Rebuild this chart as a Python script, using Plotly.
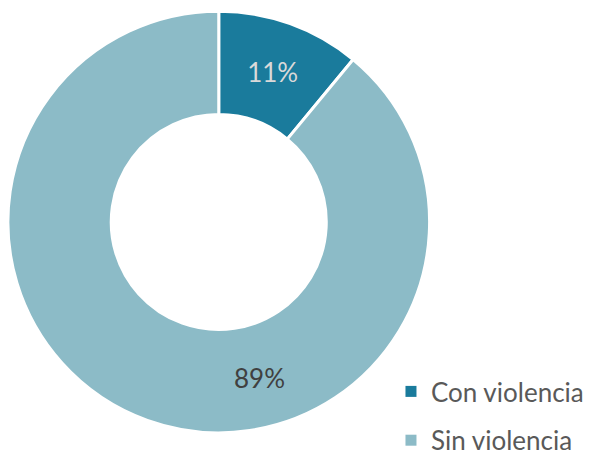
import plotly.graph_objects as go

labels = ["Con violencia", "Sin violencia"]
values = [11, 89]
colors = ["#1A7B9C", "#8CBBC7"]
text_labels = ["11%", ""]

FW, FH = 589, 464

fig = go.Figure()
fig.add_trace(go.Pie(
    labels=labels, values=values, hole=0.51, sort=False, direction="clockwise",
    rotation=0,
    marker=dict(colors=colors, line=dict(color="white", width=3)),
    text=text_labels, textinfo="text", textposition="inside",
    insidetextfont=dict(color=["#D9D9D9", "#404040"], size=26, family="Lato"),
    insidetextorientation="horizontal",
    domain=dict(x=[8/FW, 434/FW], y=[1-435/FH, 1-9/FH]),
    showlegend=False,
))
for lab, col in zip(labels, colors):
    fig.add_trace(go.Scatter(
        x=[None], y=[None], mode="markers", name=lab, legendgroup=lab,
        marker=dict(symbol="square", size=11, color=col),
        showlegend=True,
    ))
fig.add_annotation(text="89%", x=262/FW, y=1-378/FH, xref="paper", yref="paper",
                   xanchor="center", yanchor="middle",
                   showarrow=False, font=dict(size=26, color="#404040", family="Lato"))
fig.update_layout(
    width=FW, height=FH, margin=dict(l=0, r=0, t=0, b=0),
    paper_bgcolor="white", plot_bgcolor="white",
    xaxis=dict(visible=False), yaxis=dict(visible=False),
    legend=dict(x=395/FW, y=0, xanchor="left", yanchor="bottom",
                font=dict(size=26, color="#595959", family="Lato"),
                tracegroupgap=12, bgcolor="rgba(0,0,0,0)"),
)
fig.write_html("out.html", config={"displayModeBar": False},
               post_script="document.body.style.margin='0px';")
